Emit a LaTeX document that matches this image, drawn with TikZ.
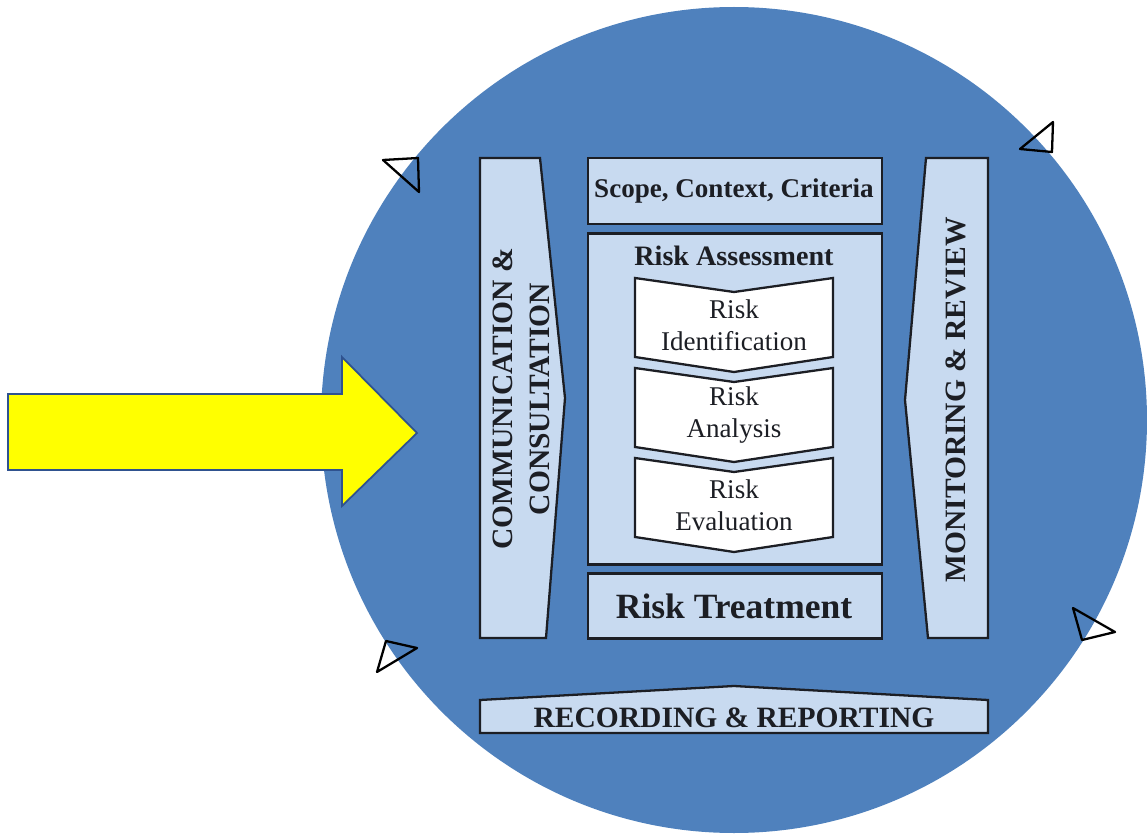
\documentclass[tikz,border=0pt]{standalone}
\usepackage{fontspec}
\setmainfont{Liberation Serif}
\definecolor{discblue}{RGB}{79,129,189}
\definecolor{paleblue}{RGB}{200,218,240}
\definecolor{arrowyellow}{RGB}{255,255,0}
\definecolor{arrowedge}{RGB}{47,82,143}
\definecolor{inkdark}{RGB}{28,30,36}

\begin{document}
\begin{tikzpicture}[x=0.02cm,y=-0.02cm]

\tikzset{panel/.style={draw=inkdark,line width=1.3pt,fill=paleblue,line join=miter}}
\tikzset{stage/.style={draw=inkdark,line width=1.3pt,fill=white}}
\tikzset{capbold/.style={text=inkdark,font=\fontsize{16.8}{21}\selectfont\bfseries,align=center,inner sep=0pt}}
\tikzset{headbold/.style={text=inkdark,font=\fontsize{15.4}{18}\selectfont\bfseries,inner sep=0pt}}
\tikzset{stagetext/.style={text=inkdark,font=\fontsize{15.4}{18}\selectfont,align=center,inner sep=0pt}}
\tikzset{marker/.style={draw=black,line width=1.3pt,line join=round}}

\useasboundingbox (0,0) rectangle (1147,838);

% disc
\fill[discblue] (734,420) circle [radius=413];

% yellow arrow
\draw[fill=arrowyellow,draw=arrowedge,line width=1pt] (8,394) -- (342,394) -- (342,357) -- (417,433) -- (342,506) -- (342,470) -- (8,470) -- cycle;

% side panels
\draw[panel] (480,158) -- (540,158) -- (565,398) -- (546,638) -- (480,638) -- cycle;
\draw[panel] (988,158) -- (926,158) -- (905,400) -- (928,638) -- (988,638) -- cycle;
\draw[panel] (480,733) -- (480,700) -- (734,686) -- (988,700) -- (988,733) -- cycle;

\draw (521,399) node[capbold,rotate=90](comm) {COMMUNICATION \&\\CONSULTATION};
\draw (956,400) node[capbold,rotate=90](monitor) {MONITORING \& REVIEW};
\draw (734,718) node[capbold](record) {RECORDING \& REPORTING};

% centre column
\draw (735,191) node[panel,minimum width=5.88cm,minimum height=1.32cm](scope) {};
\draw (735,399) node[panel,minimum width=5.88cm,minimum height=6.62cm](assess) {};
\draw (735,606) node[panel,minimum width=5.88cm,minimum height=1.3cm](treat) {};

\draw (734,191) node[headbold](scopetext) {Scope, Context, Criteria};
\draw (734,256) node[headbold,font=\fontsize{16}{18}\selectfont\bfseries](assesstext) {Risk Assessment};
\draw (734,606) node[headbold,font=\fontsize{20.2}{22}\selectfont\bfseries](treattext) {Risk Treatment};

% stages
\draw[stage] (635,278) -- (734,292) -- (833,278) -- (833,357) -- (734,372) -- (635,357) -- cycle;
\draw[stage] (635,368) -- (734,382) -- (833,368) -- (833,447) -- (734,462) -- (635,447) -- cycle;
\draw[stage] (635,458) -- (734,472) -- (833,458) -- (833,537) -- (734,552) -- (635,537) -- cycle;

\draw (734,325) node[stagetext](ident) {Risk\\Identification};
\draw (734,415) node[stagetext](analysis) {Risk\\Analysis};
\draw (734,505) node[stagetext](evaluation) {Risk\\Evaluation};

% small triangles on the rim
\draw[marker] (383,160) -- (418,158) -- (419,192) -- cycle;
\draw[marker] (386,641) -- (417,648) -- (377,672) -- cycle;
\draw[marker] (1020,149) -- (1053,122) -- (1052,152) -- cycle;
\draw[marker] (1073,608) -- (1115,632) -- (1082,640) -- cycle;

\end{tikzpicture}
\end{document}
